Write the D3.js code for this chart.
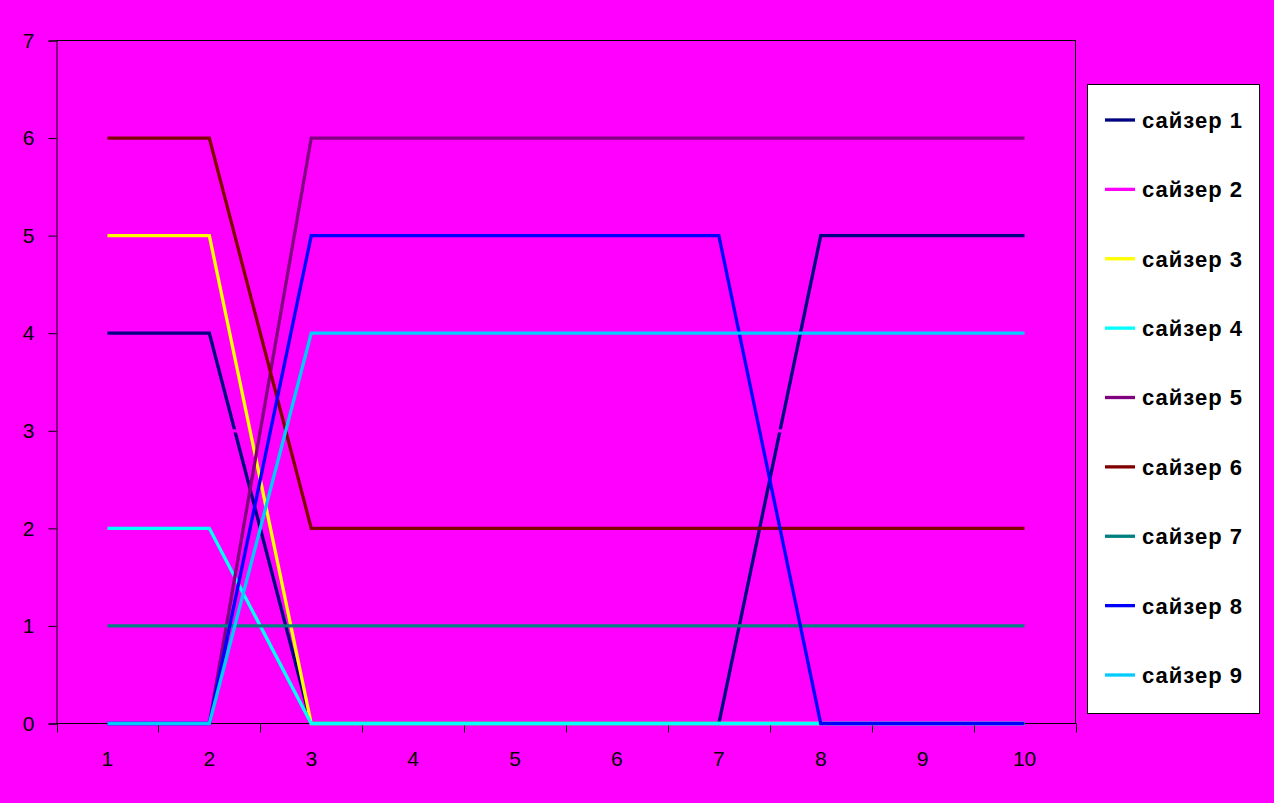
<!DOCTYPE html>
<html><head><meta charset="utf-8">
<script src="https://cdn.jsdelivr.net/npm/d3@7"></script>
<style>body{margin:0;background:#FF00FF;}svg{display:block;}</style>
</head><body>
<svg id="c" width="1274" height="803"></svg>
<script>
const categories = ["1","2","3","4","5","6","7","8","9","10"];
const yTicks = [0,1,2,3,4,5,6,7];
const seriesNames = ["сайзер 1","сайзер 2","сайзер 3","сайзер 4","сайзер 5","сайзер 6","сайзер 7","сайзер 8","сайзер 9"];
const seriesColors = ["#000080","#FF00FF","#FFFF00","#00FFFF","#800080","#800000","#008080","#0000FF","#00CCFF"];
const s1 = [4,4,0,0,0,0,0,5,5,5];
const s2 = [3,3,3,3,3,3,3,3,3,3];
const s3 = [5,5,0,0,0,0,0,0,0,0];
const s4 = [2,2,0,0,0,0,0,0,0,0];
const s5 = [0,0,6,6,6,6,6,6,6,6];
const s6 = [6,6,2,2,2,2,2,2,2,2];
const s7 = [1,1,1,1,1,1,1,1,1,1];
const s8 = [0,0,5,5,5,5,5,0,0,0];
const s9 = [0,0,4,4,4,4,4,4,4,4];
const seriesValues = [s1,s2,s3,s4,s5,s6,s7,s8,s9];

const svg = d3.select("#c");
const L=56.5, R=1075.5, T=40.5, B=723.5;
const FONT = "Arial, 'Liberation Sans', sans-serif";
const x = d3.scaleBand().domain(categories).range([L,R]);
const y = d3.scaleLinear().domain([0,7]).range([B,T]);

// plot border top/right
svg.append("line").attr("x1",L).attr("x2",R).attr("y1",T).attr("y2",T).attr("stroke","#000");
svg.append("line").attr("x1",R).attr("x2",R).attr("y1",T).attr("y2",B).attr("stroke","#000");

// y axis
const ya = svg.append("g").attr("transform",`translate(${L},0)`)
  .call(d3.axisLeft(y).tickValues(yTicks).tickSize(8).tickPadding(14).tickFormat(d3.format("d")));
ya.select(".domain").attr("stroke","#000");
ya.selectAll("text").attr("font-family",FONT).attr("font-size",21).attr("fill","#000");

// x axis
const xa = svg.append("g").attr("transform",`translate(0,${B})`)
  .call(d3.axisBottom(x).tickSize(0).tickPadding(28));
xa.select(".domain").remove();
xa.selectAll("text").attr("font-family",FONT).attr("font-size",21).attr("fill","#000");
svg.append("line").attr("x1",L).attr("x2",R).attr("y1",B).attr("y2",B).attr("stroke","#000");
const bounds = categories.map(c=>x(c)).concat([x(categories[categories.length-1])+x.bandwidth()]);
svg.append("g").selectAll("line").data(bounds).join("line")
  .attr("x1",d=>Math.round(d)+0.5).attr("x2",d=>Math.round(d)+0.5).attr("y1",B).attr("y2",B+9).attr("stroke","#000");

// lines
const line = d3.line().x((d,i)=>x(categories[i])+x.bandwidth()/2).y(d=>y(d));
seriesValues.forEach((vals,i)=>{
  svg.append("path").attr("d",line(vals)).attr("fill","none")
    .attr("stroke",seriesColors[i]).attr("stroke-width",3.3).attr("stroke-linejoin","miter");
});

// legend
const lg = svg.append("g");
lg.append("rect").attr("x",1087.5).attr("y",84.5).attr("width",172).attr("height",629).attr("fill","#fff").attr("stroke","#000");
const ly = d3.scalePoint().domain(seriesNames).range([120,675]);
seriesNames.forEach((n,i)=>{
  lg.append("line").attr("x1",1105).attr("x2",1135).attr("y1",ly(n)).attr("y2",ly(n))
    .attr("stroke",seriesColors[i]).attr("stroke-width",3.3);
  lg.append("text").attr("x",1142).attr("y",ly(n)).attr("dy","0.36em")
    .attr("font-family",FONT).attr("font-weight","bold").attr("font-size",22)
    .attr("letter-spacing","1px").text(n);
});
</script>
</body></html>
